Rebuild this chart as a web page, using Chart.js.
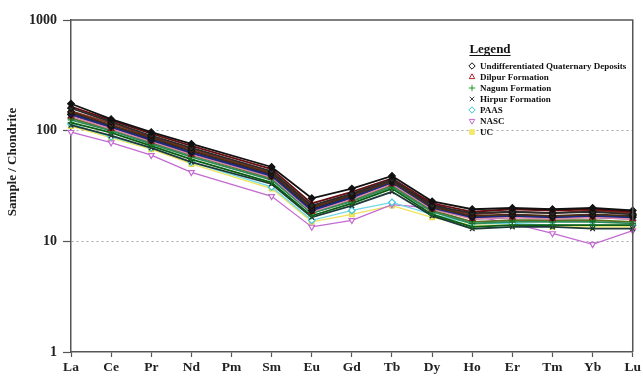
<!DOCTYPE html>
<html>
<head>
<meta charset="utf-8">
<script src="https://cdn.jsdelivr.net/npm/chart.js@4/dist/chart.umd.min.js"></script>
<style>
  html, body { margin: 0; padding: 0; background: #fff; }
  #wrap { width: 643px; height: 380px; }
</style>
</head>
<body>
<div id="wrap"><canvas id="ree" width="643" height="380"></canvas></div>
<script>
// Chondrite-normalised rare earth element patterns (Pm not analysed)
const elements = ['La','Ce','Pr','Nd','Pm','Sm','Eu','Gd','Tb','Dy','Ho','Er','Tm','Yb','Lu'];
const yTickValues = [1, 10, 100, 1000];
const groupNames = ['Undifferentiated Quaternary Deposits','Dilpur Formation','Nagum Formation','Hirpur Formation','PAAS','NASC','UC'];

// Undifferentiated Quaternary Deposits
const uqd1 = [175,127,97,76,null,47,24.5,30,39,23,19.5,20,19.5,20,19];
const uqd2 = [160,120,90,70,null,43,21,27,36,21,18,18.5,18,18.5,17.5];
const uqd3 = [148,112,86,66,null,41,20,26,35,20.5,17,17.5,17,17.5,17];
const uqd4 = [140,108,82,63,null,39,19,25,34,20,16.5,17,16.5,17,16.5];
// Dilpur Formation
const dil1 = [165,124,94,73,null,45,22,28,37,22,18.5,19.5,19,19.5,18.5];
const dil2 = [150,117,88,68,null,42,20.5,26.5,35,21,17.5,18.5,18,19,18];
const dil3 = [135,104,80,61,null,38,18.5,24,33,19.5,16,16.5,16,16.5,16];
// Nagum Formation
const nag1 = [125,100,76,58,null,36,18,23,31,18.5,14.5,15,15,15,14.5];
const nag2 = [118,96,73,55,null,34,17,22,30,17.5,13.5,14,14,14,14];
const nag3 = [130,102,78,60,null,37,18,23.5,32,19,15,15.5,15.5,15.5,15];
// Hirpur Formation
const hir1 = [145,110,84,65,null,40,19.5,25.5,34,21.5,16.5,17,17,17,16.5];
const hir2 = [138,106,81,62,null,38.5,19,24.5,33,22.5,16,16.5,16.5,16.5,16];
const hir3 = [112,90,70,52,null,33,16.5,21,28,17,13,13.5,13.5,13,13];
// Reference compositions
const paas = [115,88,70,52,null,31,15.5,19,22.5,17.5,14.5,14.5,14,14,14];
const nasc = [97,78,60,42,null,25.5,13.5,15.5,21.5,20,17,14.5,11.8,9.4,12.5];
const uc   = [110,86,68,50,null,30,15,17.5,21,16.5,14,14,13.5,13.5,13.5];

const groupStyles = [
  { pointStyle: 'rectRot',  rotation: 0,   color: '#111111', fill: '#ffffff' },
  { pointStyle: 'triangle', rotation: 0,   color: '#b3262a', fill: '#ffffff' },
  { pointStyle: 'cross',    rotation: 0,   color: '#1f9a2a', fill: '#1f9a2a' },
  { pointStyle: 'crossRot', rotation: 0,   color: '#3a3f4a', fill: '#3a3f4a' },
  { pointStyle: 'rectRot',  rotation: 0,   color: '#3cc8d8', fill: '#ffffff' },
  { pointStyle: 'triangle', rotation: 180, color: '#c46ad2', fill: '#ffffff' },
  { pointStyle: 'rect',     rotation: 0,   color: '#eee35a', fill: '#f3ea70' }
];

// Marker colours inside the sample bundle are darker than the legend keys
const bundleMarker = ['#111111', '#8a1a1c', '#1b6e22', '#22262e', '#3cc8d8', '#c46ad2', '#e6da4a'];

const samples = [
  { data: uqd1, group: 0, line: '#111111' },
  { data: uqd2, group: 0, line: '#2b2b2b' },
  { data: uqd3, group: 0, line: '#4a2e14' },
  { data: uqd4, group: 0, line: '#1c2a80' },
  { data: dil1, group: 1, line: '#6a0d10' },
  { data: dil2, group: 1, line: '#8e3024' },
  { data: dil3, group: 1, line: '#d98aa8' },
  { data: nag1, group: 2, line: '#2e8b57' },
  { data: nag2, group: 2, line: '#0b5e12' },
  { data: nag3, group: 2, line: '#5f6f22' },
  { data: hir1, group: 3, line: '#151a5e' },
  { data: hir2, group: 3, line: '#6d2a8a' },
  { data: hir3, group: 3, line: '#1f3a3a' },
  { data: paas, group: 4, line: '#6fd8e6' },
  { data: nasc, group: 5, line: '#c46ad2' },
  { data: uc,   group: 6, line: '#eee35a' }
];

const datasets = samples.map(s => {
  const st = groupStyles[s.group];
  return {
    label: groupNames[s.group],
    data: s.data,
    borderColor: s.line,
    borderWidth: s.group < 4 ? 1.8 : 1.3,
    pointStyle: st.pointStyle,
    rotation: st.rotation,
    pointRadius: 3.3,
    pointBorderWidth: 1.2,
    pointBorderColor: bundleMarker[s.group],
    pointBackgroundColor: s.group < 4 ? s.line : st.fill,
    spanGaps: true,
    tension: 0
  };
});

const serif = '"Liberation Serif", "Times New Roman", serif';

// Box frame, rotated axis title and the legend block
const decorations = {
  id: 'decorations',
  afterDraw(chart) {
    const { ctx, chartArea: a } = chart;
    ctx.save();
    ctx.strokeStyle = '#555';
    ctx.lineWidth = 1.5;
    ctx.beginPath();
    ctx.moveTo(a.left, a.top);
    ctx.lineTo(a.right, a.top);
    ctx.lineTo(a.right, a.bottom);
    ctx.stroke();

    ctx.fillStyle = '#222';
    ctx.font = 'bold 13px ' + serif;
    ctx.textAlign = 'center';
    ctx.textBaseline = 'middle';
    ctx.translate(13, 162);
    ctx.rotate(-Math.PI / 2);
    ctx.fillText('Sample / Chondrite', 0, 0);
    ctx.restore();

    ctx.save();
    ctx.fillStyle = '#111';
    ctx.font = 'bold 13px ' + serif;
    ctx.textAlign = 'center';
    ctx.textBaseline = 'alphabetic';
    const tx = 490, ty = 53;
    ctx.fillText('Legend', tx, ty);
    const w = ctx.measureText('Legend').width;
    ctx.strokeStyle = '#111';
    ctx.lineWidth = 1;
    ctx.beginPath();
    ctx.moveTo(tx - w / 2, ty + 2.5);
    ctx.lineTo(tx + w / 2, ty + 2.5);
    ctx.stroke();

    ctx.font = 'bold 9px ' + serif;
    ctx.textAlign = 'left';
    ctx.textBaseline = 'middle';
    groupNames.forEach((name, i) => {
      const st = groupStyles[i];
      const y = 66 + i * 11;
      ctx.strokeStyle = st.color;
      ctx.fillStyle = st.fill;
      Chart.helpers.drawPoint(ctx, { pointStyle: st.pointStyle, rotation: st.rotation, radius: 3.2, borderWidth: 1 }, 472, y);
      ctx.fillStyle = '#111';
      ctx.fillText(name, 480, y + 0.5);
    });
    ctx.restore();
  }
};

new Chart(document.getElementById('ree'), {
  type: 'line',
  data: { labels: elements, datasets },
  options: {
    responsive: false,
    animation: false,
    devicePixelRatio: 1,
    layout: { padding: { top: 20, right: 9, left: 0, bottom: 0 } },
    plugins: { legend: { display: false }, tooltip: { enabled: false } },
    scales: {
      x: {
        type: 'category',
        offset: false,
        afterFit: s => { s.height = 28; },
        grid: { drawOnChartArea: false, drawTicks: true, tickLength: 5, tickColor: '#555', tickWidth: 1.2 },
        border: { color: '#555', width: 1.5 },
        ticks: { color: '#222', font: { family: serif, size: 13.5, weight: 'bold' }, padding: 2, maxRotation: 0, autoSkip: false }
      },
      y: {
        type: 'logarithmic',
        min: 1,
        max: 1000,
        afterFit: s => { s.width = 71; },
        afterBuildTicks: s => { s.ticks = yTickValues.map(v => ({ value: v })); },
        grid: {
          color: c => (c.tick && (c.tick.value === 10 || c.tick.value === 100)) ? '#a8a8a8' : 'rgba(0,0,0,0)',
          lineWidth: 1,
          tickLength: 8,
          tickColor: '#555',
          tickWidth: 1.2
        },
        border: { color: '#555', width: 1.5, dash: [2, 3] },
        ticks: {
          color: '#222',
          padding: 6,
          font: { family: serif, size: 14, weight: 'bold' },
          callback: v => String(v)
        }
      }
    }
  },
  plugins: [decorations]
});
</script>
</body>
</html>
